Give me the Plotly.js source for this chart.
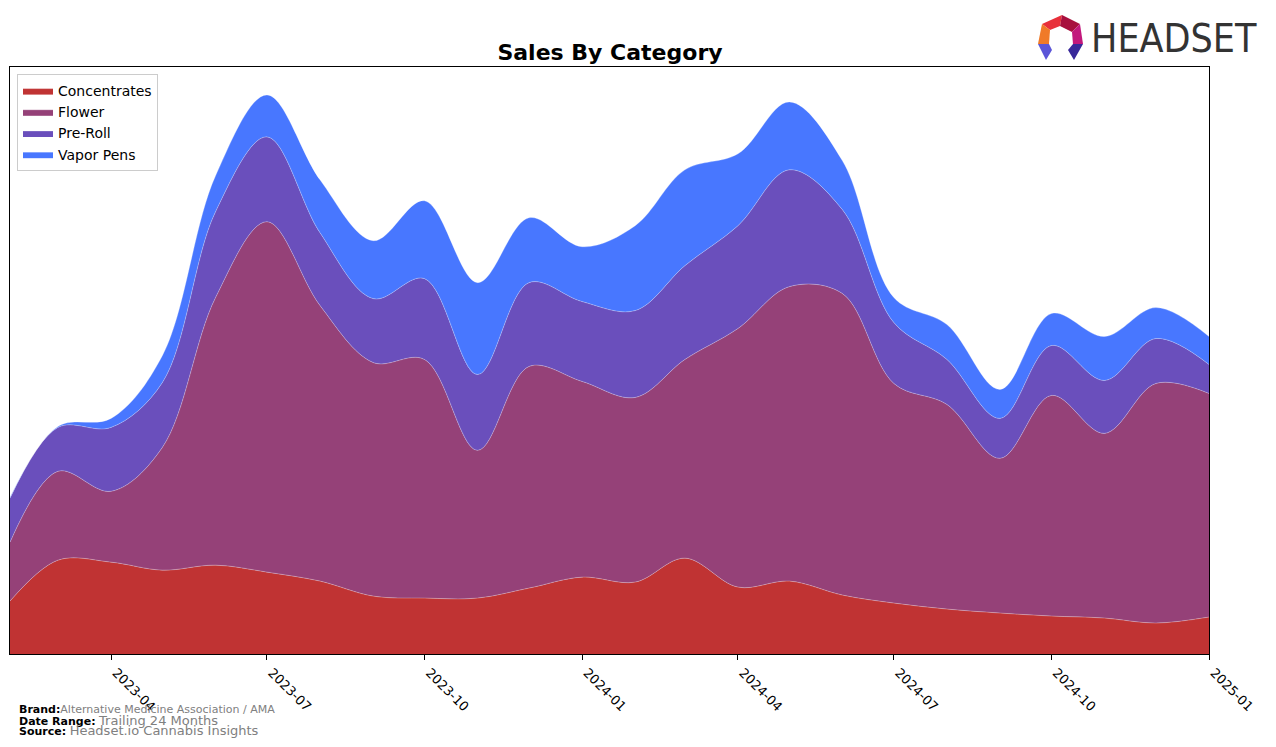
<!DOCTYPE html>
<html>
<head>
<meta charset="utf-8">
<script src="https://cdn.plot.ly/plotly-3.0.1.min.js"></script>
<style>
  html, body { margin: 0; padding: 0; background: #ffffff; }
  #chart { width: 1276px; height: 747px; }
</style>
</head>
<body>
<div id="chart"></div>
<script>
// ---- data (relative sales) ----
const months = ['2023-02-01','2023-03-01','2023-04-01','2023-05-01','2023-06-01','2023-07-01',
  '2023-08-01','2023-09-01','2023-10-01','2023-11-01','2023-12-01','2024-01-01',
  '2024-02-01','2024-03-01','2024-04-01','2024-05-01','2024-06-01','2024-07-01',
  '2024-08-01','2024-09-01','2024-10-01','2024-11-01','2024-12-01','2025-01-01'];

const concentrates = [53, 94, 92, 84, 89, 82, 73, 58, 56, 56, 66, 77,
                      72, 96, 67, 73, 59, 51, 45, 41, 38, 36, 31, 37];
const flower       = [59, 89, 71, 123, 268, 351, 276, 234, 239, 148, 222, 196,
                      185, 199, 259, 295, 302, 220, 205, 155, 221, 185, 240, 224];
const preRoll      = [44, 44, 64, 65, 86, 85, 73, 64, 81, 76, 84, 80,
                      87, 94, 103, 117, 84, 61, 45, 40, 50, 53, 45, 29];
const vaporPens    = [1, 1, 9, 27, 36, 42, 53, 58, 78, 92, 65, 55,
                      85, 96, 72, 68, 49, 25, 35, 29, 32, 44, 31, 28];

const tickVals = ['2023-04-01','2023-07-01','2023-10-01','2024-01-01',
                  '2024-04-01','2024-07-01','2024-10-01','2025-01-01'];
const tickText = ['2023-04','2023-07','2023-10','2024-01',
                  '2024-04','2024-07','2024-10','2025-01'];

const seriesNames  = ['Concentrates','Flower','Pre-Roll','Vapor Pens'];
const seriesValues = [concentrates, flower, preRoll, vaporPens];
const seriesColors = ['#c03333','#954178','#6a4fbc','#4877ff'];

const traces = seriesNames.map((name, i) => ({
  type: 'scatter',
  mode: 'lines',
  name: name,
  x: months,
  y: seriesValues[i],
  stackgroup: 'one',
  line: { shape: 'spline', smoothing: 1, width: 0.8, color: 'rgba(255,255,255,0.35)' },
  fillcolor: seriesColors[i],
  hoverinfo: 'skip'
}));

// --- helpers for decorative logo (pixel -> paper) ---
const L = 10, R = 1209, T = 67, B = 654;
const px = x => (x - L) / (R - L);
const py = y => (B - y) / (B - T);
function poly(pts, color) {
  const d = pts.map((p, k) => (k ? 'L' : 'M') + px(p[0]).toFixed(5) + ',' + py(p[1]).toFixed(5)).join(' ') + ' Z';
  return { type: 'path', xref: 'paper', yref: 'paper', path: d, fillcolor: color, line: { width: 0 }, layer: 'above' };
}
const logoShapes = [
  poly([[1042,24],[1062,15],[1060,26],[1050,30]], '#e8303a'),
  poly([[1062,15],[1080,24],[1072,32],[1060,26]], '#a8103e'),
  poly([[1080,24],[1083,44],[1073,44],[1072,32]], '#c2187c'),
  poly([[1042,24],[1050,30],[1049,44],[1038,44]], '#f07a28'),
  poly([[1038,44],[1049,44],[1052,50],[1046,60]], '#5b55d8'),
  poly([[1073,44],[1083,44],[1074,60],[1068,50]], '#38289a')
];

const layout = {
  width: 1276,
  height: 747,
  margin: { l: L, r: 1276 - R, t: T, b: 747 - B },
  paper_bgcolor: '#ffffff',
  plot_bgcolor: '#ffffff',
  font: { family: 'DejaVu Sans, sans-serif', size: 13, color: '#000' },
  title: {
    text: '<b>Sales By Category</b>',
    font: { family: 'DejaVu Sans, sans-serif', size: 22, color: '#000' },
    x: 610 / 1276,
    xanchor: 'center',
    y: 1 - 52 / 747,
    yanchor: 'middle'
  },
  showlegend: true,
  legend: {
    x: px(17), y: py(74), xanchor: 'left', yanchor: 'top',
    traceorder: 'normal',
    bgcolor: 'rgba(255,255,255,0.8)',
    bordercolor: '#cccccc', borderwidth: 1,
    font: { family: 'DejaVu Sans, sans-serif', size: 14, color: '#000' },
    itemclick: false
  },
  xaxis: {
    type: 'date',
    range: ['2023-02-01', '2025-01-01'],
    tickvals: tickVals,
    ticktext: tickText,
    tickangle: 45,
    ticklabelshift: 5,
    ticks: 'outside', ticklen: 5, tickwidth: 1, tickcolor: '#000',
    tickfont: { family: 'DejaVu Sans, sans-serif', size: 13, color: '#000' },
    showgrid: false, zeroline: false,
    showline: true, linecolor: '#000', linewidth: 1, mirror: true
  },
  yaxis: {
    range: [0, 588],
    showticklabels: false, ticks: '',
    showgrid: false, zeroline: false,
    showline: true, linecolor: '#000', linewidth: 1, mirror: true
  },
  shapes: logoShapes,
  annotations: [
    {
      xref: 'paper', yref: 'paper', x: px(1089), y: py(38),
      xanchor: 'left', yanchor: 'middle', showarrow: false,
      text: 'HEADSET',
      font: { family: 'DejaVu Sans Condensed, Liberation Sans Narrow, DejaVu Sans, sans-serif', size: 39, color: '#333333' }
    },
    {
      xref: 'paper', yref: 'paper', x: px(17), y: py(709),
      xanchor: 'left', yanchor: 'middle', showarrow: false, align: 'left',
      text: '<b>Brand:</b><span style="color:#808080">Alternative Medicine Association / AMA</span>',
      font: { family: 'DejaVu Sans, sans-serif', size: 11, color: '#000' }
    },
    {
      xref: 'paper', yref: 'paper', x: px(17), y: py(720),
      xanchor: 'left', yanchor: 'middle', showarrow: false, align: 'left',
      text: '<b>Date Range:</b> <span style="color:#808080;font-size:13px">Trailing 24 Months</span>',
      font: { family: 'DejaVu Sans, sans-serif', size: 11, color: '#000' }
    },
    {
      xref: 'paper', yref: 'paper', x: px(17), y: py(730),
      xanchor: 'left', yanchor: 'middle', showarrow: false, align: 'left',
      text: '<b>Source:</b> <span style="color:#808080;font-size:13px">Headset.io Cannabis Insights</span>',
      font: { family: 'DejaVu Sans, sans-serif', size: 11, color: '#000' }
    }
  ]
};

Plotly.newPlot('chart', traces, layout, { displayModeBar: false, staticPlot: true });
</script>
</body>
</html>
